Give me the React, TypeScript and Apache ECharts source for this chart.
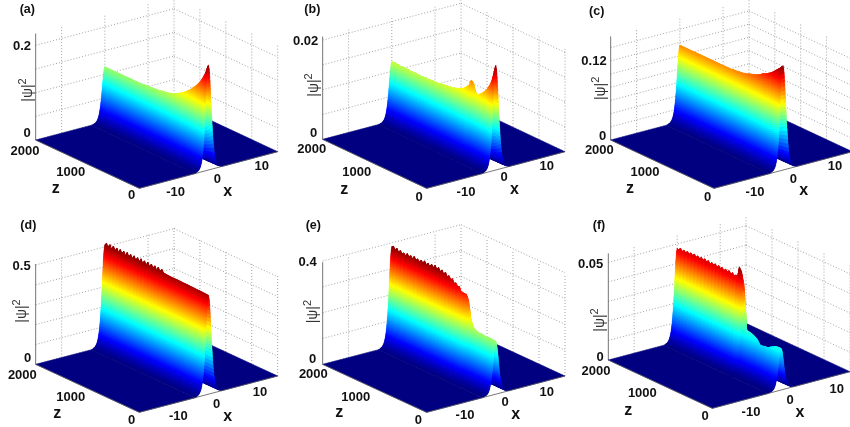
import React, { useEffect, useRef } from "react";
import * as echarts from "echarts";

// |psi|^2 along the ridge, from z = 0 up to z = 2000 (evenly spaced rows)
const ridgeA = [.222,.203,.19,.18,.171,.164,.158,.152,.147,.142,.138,.134,.131,.128,.126,.124,.123,.122,.121,.12,.119,.119,.118,.118,.117,.117,.116,.116,.116,.116,.116,.116,.116,.116,.116,.116,.116,.116,.116,.116,.116];
const ridgeB = [.0211,.0192,.0178,.0168,.0161,.0154,.0149,.0145,.0141,.0138,.0135,.0133,.0142,.0155,.0158,.0148,.0143,.0139,.0136,.0133,.0131,.013,.0128,.0127,.0126,.0124,.0125,.0123,.0124,.0122,.0123,.0121,.0122,.012,.0121,.0119,.0121,.0119,.012,.0118,.012,.0118,.0119,.0117,.0119,.0118,.012,.0118,.0119,.0118,.012,.0118,.012,.0119,.012,.0118,.012,.0119,.0121,.0119,.012];
const ridgeC = [.158,.153,.149,.145,.141,.138,.135,.133,.131,.128,.126,.124,.123,.122,.12,.119,.118,.118,.117,.117,.116,.116,.116,.116,.116,.116,.116,.116,.116,.116,.116,.116,.116,.116,.116,.116,.116,.116,.116,.116,.116];
const ridgeD = [.498,.498,.499,.499,.5,.5,.5,.5,.501,.501,.501,.501,.502,.502,.502,.502,.503,.503,.503,.503,.503,.503,.503,.504,.504,.505,.506,.52,.503,.522,.503,.521,.504,.522,.503,.523,.504,.522,.503,.524,.504,.522,.503,.523,.504,.522,.504,.524,.503,.522,.504,.523,.503,.522,.504,.524,.503,.523,.504,.522,.51];
const ridgeE = [.205,.205,.206,.207,.206,.206,.206,.207,.208,.208,.208,.21,.214,.221,.238,.259,.32,.335,.333,.336,.335,.352,.349,.36,.355,.37,.362,.376,.368,.382,.372,.385,.375,.388,.378,.39,.378,.388,.376,.386,.377,.389,.376,.386,.374,.385,.376,.388,.374,.385,.375,.387,.374,.383,.375,.386,.376,.388,.379,.39,.385];
const ridgeF = [.0213,.0213,.0212,.021,.0205,.02,.0196,.0188,.0185,.0186,.0182,.0181,.0179,.019,.0205,.021,.0216,.0219,.0221,.0223,.0224,.0246,.047,.0515,.053,.0469,.0482,.0472,.0486,.0474,.0488,.0476,.0487,.0475,.0488,.0478,.0489,.0477,.049,.0479,.0488,.0476,.049,.0478,.0491,.0479,.049,.0478,.0489,.0477,.049,.0478,.0488,.0476,.0487,.0475,.0486,.0474,.0487,.0473,.0478];

// Half of the ridge's cross-section: distance from the centre and share of the peak
const profileX = [3.6,2.99,2.645,2.292,2.08,1.93,1.818,1.67,1.567,1.444,1.34,1.25,1.17,1.1,1.03,.97,.91,.85,.8,.75,.693,.65,.6,.54,.48,.43,.36,.29,.2,0];
const profileLevel = [0,.01,.02,.04,.06,.08,.1,.13,.16,.2,.24,.28,.32,.36,.4,.44,.48,.52,.56,.6,.64,.68,.72,.76,.8,.84,.88,.92,.96,1];

// Tick values and labels
const xGridTicks = [-10, 0, 10];
const zGridTicks = [500, 1000, 1500];
const psiTicksA = [0, .05, .1, .15, .2];
const psiTicksB = [0, .005, .01, .015, .02];
const psiTicksC = [0, .02, .04, .06, .08, .1, .12, .14];
const psiTicksD = [0, .1, .2, .3, .4, .5];
const psiTicksE = [0, .1, .2, .3, .4];
const psiTicksF = [0, .01, .02, .03, .04, .05];
const xTickLabels = ["-10", "0", "10"];
const zTickLabels = ["2000", "1000", "0"];
const panelNames = ["(a)", "(b)", "(c)", "(d)", "(e)", "(f)"];
const psiTopLabels = ["0.2", "0.02", "0.12", "0.5", "0.4", "0.05"];

const X_MIN = -16, X_MAX = 16, Z_MAX = 2000;
const UNIT_W = 855, UNIT_H = 636;

// Geometry in units of a third of a pixel, inside each panel's box
type Pt = [number, number];
const panels = [
  { ox: 0, oy: 0, ridge: ridgeA, ticks: psiTicksA, cmax: .222, top: .225, w: .85, L: [107,420], F: [418,565], R: [833,455], unit: 71/.05,
    name: [82,28], topLab: [93,135], zero: [92,398], xl: [[527,575],[652,535],[785,497]], zl: [[75,450],[212,515],[395,583]], xn: [683,570], zn: [167,563], yn: [75,270] },
  { ox: 285, oy: 0, ridge: ridgeB, ticks: psiTicksB, cmax: .0211, top: .0207, w: .85, L: [113,418], F: [425,565], R: [840,455], unit: 74.5/.005,
    name: [82,28], topLab: [100,120], zero: [97,397], xl: [[543,573],[657,530],[785,497]], zl: [[80,445],[215,515],[402,590]], xn: [688,565], zn: [178,564], yn: [78,255] },
  { ox: 565, oy: 0, ridge: ridgeC, ticks: psiTicksC, cmax: .158, top: .157, w: .85, L: [137,420], F: [447,565], R: [862,455], unit: 39.6/.02,
    name: [95,32], topLab: [125,182], zero: [124,405], xl: [[570,573],[685,535],[810,497]], zl: [[103,447],[240,515],[428,590]], xn: [716,568], zn: [195,562], yn: [100,265] },
  { ox: 0, oy: 215, ridge: ridgeD, ticks: psiTicksD, cmax: .522, top: .505, w: .85, L: [107,448], F: [418,592], R: [833,483], unit: 59.6/.1,
    name: [85,30], topLab: [92,152], zero: [94,428], xl: [[535,600],[650,565],[780,530]], zl: [[67,478],[212,545],[395,613]], xn: [683,600], zn: [172,592], yn: [58,288] },
  { ox: 285, oy: 215, ridge: ridgeE, ticks: psiTicksE, cmax: .39, top: .395, w: .85, L: [113,448], F: [425,592], R: [840,483], unit: 77.5/.1,
    name: [85,30], topLab: [95,140], zero: [94,430], xl: [[540,597],[660,560],[785,530]], zl: [[85,475],[212,545],[400,613]], xn: [692,595], zn: [163,590], yn: [75,290] },
  { ox: 565, oy: 215, ridge: ridgeF, ticks: psiTicksF, cmax: .053, top: .0546, w: .85, L: [130,435], F: [442,580], R: [855,470], unit: 58.6/.01,
    name: [102,30], topLab: [115,145], zero: [116,425], xl: [[558,590],[675,553],[815,520]], zl: [[93,467],[232,533],[420,600]], xn: [705,590], zn: [190,582], yn: [97,315] },
];

function jet(v: number) {
  const c = (t: number) => Math.round(255 * Math.max(0, Math.min(1, t)));
  return `rgb(${c(Math.min(4*v-1.5, -4*v+4.5))},${c(Math.min(4*v-.5, -4*v+3.5))},${c(Math.min(4*v+.5, -4*v+2.5))})`;
}

function projector(p: any) {
  return (x: number, z: number, psi: number): Pt => {
    const a = (x - X_MIN) / (X_MAX - X_MIN), b = z / Z_MAX;
    return [
      p.F[0] + a * (p.R[0] - p.F[0]) + b * (p.L[0] - p.F[0]),
      p.F[1] + a * (p.R[1] - p.F[1]) + b * (p.L[1] - p.F[1]) - psi * p.unit,
    ];
  };
}

function seriesFor(p: any, gridIndex: number) {
  const proj = projector(p);
  const base = { type: "custom", xAxisIndex: gridIndex, yAxisIndex: gridIndex, silent: true, animation: false, progressive: 0, clip: false };

  // Dotted walls
  const segs: any[] = [];
  const dotted = { stroke: "#8a8a8a", lineWidth: 0.8, lineDash: [1, 2] };
  p.ticks.forEach((t: number) => {
    segs.push([[X_MIN, Z_MAX, t], [X_MAX, Z_MAX, t], dotted]);
    segs.push([[X_MAX, Z_MAX, t], [X_MAX, 0, t], dotted]);
  });
  xGridTicks.forEach((x) => segs.push([[x, Z_MAX, 0], [x, Z_MAX, p.top], dotted]));
  zGridTicks.forEach((z) => segs.push([[X_MAX, z, 0], [X_MAX, z, p.top], dotted]));
  segs.push([[X_MAX, Z_MAX, 0], [X_MAX, Z_MAX, p.top], dotted]);
  segs.push([[X_MAX, 0, 0], [X_MAX, 0, p.top], dotted]);
  segs.push([[X_MIN, Z_MAX, 0], [X_MIN, Z_MAX, p.top], { stroke: "#666", lineWidth: 0.9 }]);

  const segSeries = (list: any[]) => ({
    ...base,
    data: list.map((_: any, i: number) => [i, i]),
    renderItem: (params: any, api: any) => {
      const s = list[params.dataIndex];
      const a = api.coord(proj(s[0][0], s[0][1], s[0][2]));
      const b = api.coord(proj(s[1][0], s[1][1], s[1][2]));
      return { type: "line", shape: { x1: a[0], y1: a[1], x2: b[0], y2: b[1] }, style: { ...s[2], fill: null } };
    },
  });

  // The far face of the ridge comes first.
  const farX = profileX.map((v) => v * p.w), farL = profileLevel;
  // The near face runs from its foot up to the crest, split once more in each
  // profile step so that its colours run smoothly.
  const nearX: number[] = [], nearL: number[] = [];
  for (let k = 0; k < profileX.length; k++) {
    nearX.push(-profileX[k] * p.w); nearL.push(profileLevel[k]);
    if (k < profileX.length - 1 && profileLevel[k] >= .02) {
      nearX.push(-((profileX[k] + profileX[k + 1]) / 2) * p.w); nearL.push((profileLevel[k] + profileLevel[k + 1]) / 2);
    }
  }
  const edge = profileX[0] * p.w;
  const rows = p.ridge.length;
  const dz = Z_MAX / (rows - 1);

  // Long jumps between two rows are cut into short steps, so that a drop shows the height colours.
  const rowZ: number[] = [], rowA: number[] = [];
  for (let i = 0; i < rows - 1; i++) {
    const a0 = p.ridge[i], a1 = p.ridge[i + 1];
    const n = Math.max(1, Math.ceil((Math.abs(a1 - a0) / p.cmax) * 40));
    for (let s = 0; s < n; s++) { rowZ.push((i + s / n) * dz); rowA.push(a0 + ((a1 - a0) * s) / n); }
  }
  rowZ.push(Z_MAX); rowA.push(p.ridge[rows - 1]);

  const floor = (x0: number, x1: number) => ({
    ...base,
    data: [[0, 0]],
    renderItem: (_: any, api: any) => ({
      type: "polygon",
      shape: { points: [proj(x0, 0, 0), proj(x1, 0, 0), proj(x1, Z_MAX, 0), proj(x0, Z_MAX, 0)].map((q) => api.coord(q)) },
      style: { fill: jet(0), stroke: jet(0), lineWidth: 0.5 },
    }),
  });

  // Short ribbons per profile step lie under the cells, so the seams between cells do not show.
  const CHUNK = 4;
  const ribbons = (xs: number[], ls: number[]) => {
    const items: number[][] = [];
    for (let r = Math.floor((rowZ.length - 2) / CHUNK) * CHUNK; r >= 0; r -= CHUNK) {
      for (let i = 0; i < xs.length - 1; i++) items.push([r, i]);
    }
    return {
      ...base,
      data: items,
      renderItem: (params: any, api: any) => {
        const [r0, i] = items[params.dataIndex];
        const r1 = Math.min(r0 + CHUNK, rowZ.length - 1);
        const pts: Pt[] = [];
        let sum = 0;
        for (let r = r0; r <= r1; r++) { pts.push(proj(xs[i + 1], rowZ[r], rowA[r] * ls[i + 1])); sum += rowA[r]; }
        for (let r = r1; r >= r0; r--) pts.push(proj(xs[i], rowZ[r], rowA[r] * ls[i]));
        const fill = jet(((sum / (r1 - r0 + 1)) * (ls[i] + ls[i + 1])) / 2 / p.cmax);
        return { type: "polygon", shape: { points: pts.map((q) => api.coord(q)) }, style: { fill, stroke: fill, lineWidth: 0.4 } };
      },
    };
  };

  const cellsOf = (xs: number[], ls: number[]) => {
    const cells: number[][] = [];
    for (let iz = rowZ.length - 2; iz >= 0; iz--) for (let ix = 0; ix < xs.length - 1; ix++) cells.push([iz, ix]);
    return {
      ...base,
      data: cells,
      renderItem: (params: any, api: any) => {
        const [iz, ix] = cells[params.dataIndex];
        const z0 = rowZ[iz], z1 = rowZ[iz + 1];
        const x1 = xs[ix + 1];
        // A little overlap with what was painted before hides the seams.
        const x0 = ix > 0 ? xs[ix] + (xs[ix - 1] - xs[ix]) * 0.35 : xs[ix];
        const zBack = Math.min(z1 + 12, Z_MAX);
        const a0 = rowA[iz], a1 = rowA[iz + 1];
        const l0 = ls[ix], l1 = ls[ix + 1];
        const fill = jet((((a0 + a1) * (l0 + l1)) / 4) / p.cmax);
        return {
          type: "polygon",
          shape: {
            points: [proj(x0, z0, a0 * l0), proj(x1, z0, a0 * l1), proj(x1, zBack, a1 * l1), proj(x0, zBack, a1 * l0)].map((q) => api.coord(q)),
          },
          style: { fill },
        };
      },
    };
  };

  const axisStyle = { stroke: "#555", lineWidth: 0.8 };
  const axes = segSeries([
    [[X_MIN, 0, 0], [X_MAX, 0, 0], axisStyle],
    [[X_MIN, 0, 0], [X_MIN, Z_MAX, 0], axisStyle],
  ]);

  return [
    segSeries(segs),
    floor(edge, X_MAX),
    ribbons(farX, farL),
    cellsOf(farX, farL),
    ribbons(nearX, nearL),
    cellsOf(nearX, nearL),
    floor(X_MIN, -edge),
    axes,
  ];
}

function textsFor(p: any, i: number) {
  const px = (q: number[]): Pt => [p.ox + q[0] / 3, p.oy + q[1] / 3];
  const out: any[] = [];
  const t = (text: string, q: number[], font: string, align = "center") => {
    const [x, y] = px(q);
    out.push({ type: "text", x, y, silent: true, style: { text, font, fill: "#111", align, verticalAlign: "middle" } });
  };
  const bold = 'bold 13px "Liberation Sans"';
  const axisName = 'bold 16px "Liberation Sans"';
  t(panelNames[i], p.name, 'bold 12.5px "Liberation Sans"');
  t(psiTopLabels[i], p.topLab, bold, "right");
  t("0", p.zero, bold, "right");
  xTickLabels.forEach((s, k) => t(s, p.xl[k], bold));
  zTickLabels.forEach((s, k) => t(s, p.zl[k], bold));
  t("x", p.xn, axisName);
  t("z", p.zn, axisName);
  const [yx, yy] = px(p.yn);
  out.push({
    type: "text", x: yx, y: yy, rotation: Math.PI / 2, silent: true,
    style: {
      text: "{a||ψ|}{s|2}", align: "center", verticalAlign: "middle", fill: "#333",
      rich: {
        a: { font: '14px "Liberation Sans"', fill: "#333", lineHeight: 18, verticalAlign: "bottom" },
        s: { font: '11px "Liberation Sans"', fill: "#333", lineHeight: 18, verticalAlign: "top" },
      },
    },
  });
  return out;
}

export default function App() {
  const ref = useRef<HTMLDivElement>(null);
  useEffect(() => {
    const chart = echarts.init(ref.current!, undefined, { renderer: "svg" });
    chart.setOption({
      animation: false,
      backgroundColor: "#fff",
      grid: panels.map((p) => ({ left: p.ox, top: p.oy, width: UNIT_W / 3, height: UNIT_H / 3, containLabel: false })),
      xAxis: panels.map((_, i) => ({ gridIndex: i, type: "value", min: 0, max: UNIT_W, show: false })),
      yAxis: panels.map((_, i) => ({ gridIndex: i, type: "value", min: 0, max: UNIT_H, inverse: true, show: false })),
      series: panels.flatMap((p, i) => seriesFor(p, i)),
      graphic: { elements: panels.flatMap((p, i) => textsFor(p, i)) },
    });
    return () => chart.dispose();
  }, []);
  return <div ref={ref} style={{ position: "fixed", left: 0, top: 0, width: 850, height: 427, filter: "blur(0.55px)" }} />;
}
